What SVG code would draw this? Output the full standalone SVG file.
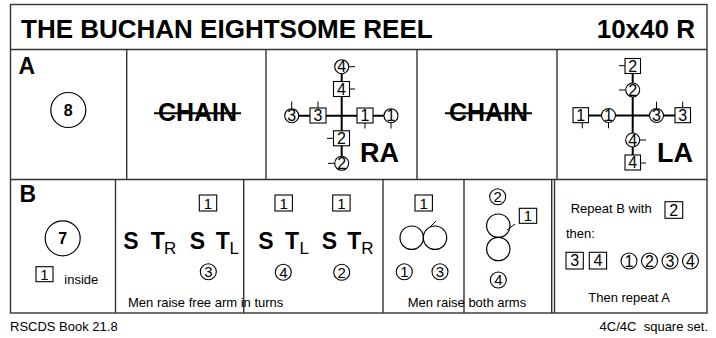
<svg xmlns="http://www.w3.org/2000/svg" width="716" height="338" viewBox="0 0 716 338">
<style>
text{font-family:"Liberation Sans",Arial,sans-serif;fill:#000}
.cell{fill:none;stroke:#333;stroke-width:1.4}
.box{fill:#fff;stroke:#000;stroke-width:1.1}
.circ{fill:#fff;stroke:#000;stroke-width:1.1}
.big{fill:none;stroke:#000;stroke-width:1.2}
.tick{stroke:#000;stroke-width:1}
.cross{stroke:#000;stroke-width:2}
.d16{font-size:16px;text-anchor:middle}
.d15{font-size:15px;text-anchor:middle}
.b{font-weight:bold}
.sm{font-size:13px}
.st{font-size:23px;font-weight:bold}
.sub{font-size:17px}
</style>
<rect x="0" y="0" width="716" height="338" fill="#fff"/>
<g id="frame">
<rect class="cell" x="10.5" y="4.5" width="696.5" height="308.5"/>
<line class="cell" x1="10.5" y1="49.5" x2="707" y2="49.5"/>
<line class="cell" x1="10.5" y1="179.5" x2="707" y2="179.5"/>
<line class="cell" x1="126.7" y1="49.5" x2="126.7" y2="179.5"/>
<line class="cell" x1="266" y1="49.5" x2="266" y2="179.5"/>
<line class="cell" x1="417" y1="49.5" x2="417" y2="179.5"/>
<line class="cell" x1="557" y1="49.5" x2="557" y2="179.5"/>
<line class="cell" x1="115.5" y1="179.5" x2="115.5" y2="313"/>
<line class="cell" x1="243.7" y1="179.5" x2="243.7" y2="313"/>
<line class="cell" x1="383" y1="179.5" x2="383" y2="313"/>
<line class="cell" x1="464" y1="179.5" x2="464" y2="313"/>
<line class="cell" x1="551.7" y1="179.5" x2="551.7" y2="313"/>
<line class="cell" x1="554.5" y1="179.5" x2="554.5" y2="313"/>
</g>
<g id="title">
<text x="21" y="37.5" class="b" font-size="26">THE BUCHAN EIGHTSOME REEL</text>
<text x="695" y="37.5" class="b" font-size="26" text-anchor="end">10x40 R</text>
</g>
<g id="rowA">
<text x="18.5" y="74.3" class="b" font-size="23">A</text>
<g id="a-bars">
<circle class="big" cx="68.3" cy="110" r="17.5"/>
<text x="68.3" y="115.8" class="b" font-size="16" text-anchor="middle">8</text>
</g>
<g id="a-chain1">
<text x="197.5" y="121" class="b" font-size="25" text-anchor="middle">CHAIN</text>
<line x1="154" y1="113.3" x2="241" y2="113.3" stroke="#000" stroke-width="2"/>
</g>
<g id="a-chain2">
<text x="488.5" y="121" class="b" font-size="25" text-anchor="middle">CHAIN</text>
<line x1="445" y1="113.3" x2="532" y2="113.3" stroke="#000" stroke-width="2"/>
</g>
</g>
<g id="connectors">
<line class="cross" x1="341.7" y1="73.7" x2="341.7" y2="156.3"/>
<line class="cross" x1="298.7" y1="115.7" x2="384" y2="115.7"/>
<line class="cross" x1="632.7" y1="73.5" x2="632.7" y2="155"/>
<line class="cross" x1="588.5" y1="115.5" x2="675" y2="115.5"/>
</g>
<g id="ra">
<g id="ra-c4"><circle class="circ" cx="341.7" cy="66.7" r="7"/><line class="tick" x1="348.7" y1="66.7" x2="355" y2="66.7"/><text class="d16" x="341.7" y="72.3">4</text></g>
<g id="ra-s4"><rect class="box" x="333.5" y="81.5" width="16" height="15"/><line class="tick" x1="349.5" y1="89" x2="355" y2="89"/><text class="d16" x="341.5" y="94.7">4</text></g>
<g id="ra-s3"><rect class="box" x="310" y="108" width="16" height="15"/><line class="tick" x1="318" y1="108" x2="318" y2="101.5"/><text class="d16" x="318" y="121.2">3</text></g>
<g id="ra-c3"><circle class="circ" cx="291.7" cy="115.7" r="7"/><line class="tick" x1="291.7" y1="108.7" x2="291.7" y2="101.5"/><text class="d16" x="291.7" y="121.3">3</text></g>
<g id="ra-s1"><rect class="box" x="357" y="108" width="16" height="15"/><line class="tick" x1="365" y1="123" x2="365" y2="128.5"/><text class="d16" x="365" y="121.2">1</text></g>
<g id="ra-c1"><circle class="circ" cx="391" cy="115.7" r="7"/><line class="tick" x1="391" y1="122.7" x2="391" y2="128.5"/><text class="d16" x="391" y="121.3">1</text></g>
<g id="ra-s2"><rect class="box" x="333.5" y="130.8" width="16" height="15"/><line class="tick" x1="333.5" y1="138.3" x2="327" y2="138.3"/><text class="d16" x="341.5" y="144">2</text></g>
<g id="ra-c2"><circle class="circ" cx="341.7" cy="163.3" r="7"/><line class="tick" x1="334.7" y1="163.3" x2="328" y2="163.3"/><text class="d16" x="341.7" y="168.9">2</text></g>
<text x="360" y="161.7" class="b" font-size="27">RA</text>
</g>
<g id="la">
<g id="la-s2"><rect class="box" x="625" y="58.5" width="15.5" height="15"/><line class="tick" x1="625" y1="65.7" x2="619" y2="65.7"/><text class="d16" x="632.7" y="71.7">2</text></g>
<g id="la-c2"><circle class="circ" cx="632.7" cy="90" r="7"/><line class="tick" x1="625.7" y1="90" x2="619" y2="90"/><text class="d16" x="632.7" y="95.6">2</text></g>
<g id="la-s1"><rect class="box" x="573" y="107.7" width="15.5" height="15"/><line class="tick" x1="582.3" y1="122.7" x2="582.3" y2="128.3"/><text class="d16" x="580.7" y="120.9">1</text></g>
<g id="la-c1"><circle class="circ" cx="608.5" cy="115.5" r="7"/><line class="tick" x1="608.5" y1="122.5" x2="608.5" y2="128.3"/><text class="d16" x="608.5" y="121.1">1</text></g>
<g id="la-c3"><circle class="circ" cx="656.5" cy="115.5" r="7"/><line class="tick" x1="656.5" y1="108.5" x2="656.5" y2="101.7"/><text class="d16" x="656.5" y="121.1">3</text></g>
<g id="la-s3"><rect class="box" x="675" y="107.7" width="15.5" height="15"/><line class="tick" x1="682.7" y1="107.7" x2="682.7" y2="101.7"/><text class="d16" x="682.7" y="120.9">3</text></g>
<g id="la-c4"><circle class="circ" cx="632.7" cy="140" r="7"/><line class="tick" x1="639.7" y1="140" x2="646" y2="140"/><text class="d16" x="632.7" y="145.6">4</text></g>
<g id="la-s4"><rect class="box" x="625" y="155" width="15.5" height="15"/><line class="tick" x1="640.5" y1="163" x2="646" y2="163"/><text class="d16" x="632.7" y="168.2">4</text></g>
<text x="657" y="162" class="b" font-size="27">LA</text>
</g>
<g id="rowB">
<text x="19.5" y="201.7" class="b" font-size="23">B</text>
<g id="b-bars">
<circle class="big" cx="62.7" cy="238.3" r="17.5"/>
<text x="62.7" y="244.1" class="b" font-size="16" text-anchor="middle">7</text>
<rect class="box" x="36" y="266.7" width="17" height="15"/>
<text class="d15" x="44.5" y="279.5">1</text>
<text x="64.3" y="284.3" class="sm">inside</text>
</g>
<g id="b-setturn1">
<rect class="box" x="199.3" y="195" width="17.4" height="16"/>
<text class="d15" x="208" y="208.5">1</text>
<text x="123.3" y="249" class="st">S</text>
<text x="150.7" y="249" class="st">T</text>
<text x="164" y="254" class="sub">R</text>
<text x="189.7" y="249" class="st">S</text>
<text x="215.7" y="249" class="st">T</text>
<text x="229.5" y="254" class="sub">L</text>
<circle class="circ" cx="208.3" cy="271.7" r="8"/>
<text class="d15" x="208.3" y="277">3</text>
</g>
<g id="b-setturn2">
<rect class="box" x="275" y="195" width="17.4" height="16"/>
<text class="d15" x="283.7" y="208.5">1</text>
<rect class="box" x="332.7" y="195" width="17.4" height="16"/>
<text class="d15" x="341.4" y="208.5">1</text>
<text x="258.3" y="249" class="st">S</text>
<text x="285" y="249" class="st">T</text>
<text x="299.5" y="254" class="sub">L</text>
<text x="321.7" y="249" class="st">S</text>
<text x="347.3" y="249" class="st">T</text>
<text x="361.3" y="254" class="sub">R</text>
<circle class="circ" cx="283.3" cy="272.3" r="8"/>
<text class="d15" x="283.3" y="277.6">4</text>
<circle class="circ" cx="341.7" cy="272.3" r="8"/>
<text class="d15" x="341.7" y="277.6">2</text>
</g>
<text x="128" y="306.5" class="sm">Men raise free arm in turns</text>
<g id="b-reel1">
<rect class="box" x="415" y="195" width="17.4" height="16"/>
<text class="d15" x="423.7" y="208.5">1</text>
<circle class="big" cx="411.7" cy="237.7" r="11.7"/>
<circle class="big" cx="435" cy="237.7" r="11.7"/>
<line class="tick" x1="429" y1="228" x2="436" y2="221"/>
<circle class="circ" cx="404.3" cy="271.7" r="8"/>
<text class="d15" x="404.3" y="277">1</text>
<circle class="circ" cx="440" cy="271.7" r="8"/>
<text class="d15" x="440" y="277">3</text>
</g>
<g id="b-reel2">
<circle class="circ" cx="497.7" cy="196.7" r="8"/>
<text class="d15" x="497.7" y="202">2</text>
<rect class="box" x="519.3" y="208.3" width="17.4" height="15"/>
<text class="d15" x="528" y="221.2">1</text>
<circle class="big" cx="498.3" cy="225.7" r="11.7"/>
<circle class="big" cx="498.3" cy="249" r="11.7"/>
<line class="tick" x1="507" y1="230" x2="515" y2="224"/>
<circle class="circ" cx="498.3" cy="280" r="8"/>
<text class="d15" x="498.3" y="285.3">4</text>
</g>
<text x="407.7" y="306.5" class="sm">Men raise both arms</text>
<g id="b-repeat">
<text x="570.7" y="213.3" class="sm">Repeat B with</text>
<rect class="box" x="665" y="201.7" width="17.7" height="16.6"/>
<text x="673.8" y="215.8" font-size="16" text-anchor="middle">2</text>
<text x="566" y="238.3" class="sm">then:</text>
<rect class="box" x="566" y="252.3" width="17.3" height="16.7"/>
<text x="574.7" y="266.4" font-size="16" text-anchor="middle">3</text>
<rect class="box" x="589.3" y="252.3" width="17.3" height="16.7"/>
<text x="598" y="266.4" font-size="16" text-anchor="middle">4</text>
<circle class="circ" cx="629" cy="261" r="8"/>
<text x="629" y="266.6" font-size="16" text-anchor="middle">1</text>
<circle class="circ" cx="649.5" cy="261" r="8"/>
<text x="649.5" y="266.6" font-size="16" text-anchor="middle">2</text>
<circle class="circ" cx="670" cy="261" r="8"/>
<text x="670" y="266.6" font-size="16" text-anchor="middle">3</text>
<circle class="circ" cx="690.5" cy="261" r="8"/>
<text x="690.5" y="266.6" font-size="16" text-anchor="middle">4</text>
<text x="588.3" y="301.7" class="sm">Then repeat A</text>
</g>
</g>
<g id="footer">
<text x="10" y="330.5" class="sm">RSCDS Book 21.8</text>
<text x="708" y="330.5" class="sm" text-anchor="end" xml:space="preserve">4C/4C  square set.</text>
</g>
</svg>
